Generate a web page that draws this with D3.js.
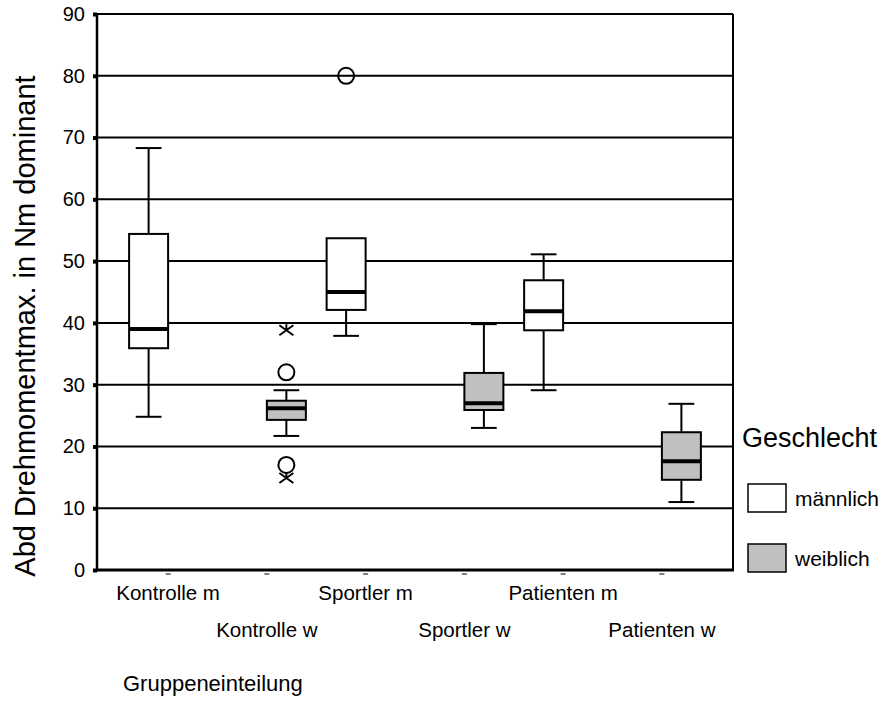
<!DOCTYPE html>
<html>
<head>
<meta charset="utf-8">
<script src="https://cdn.jsdelivr.net/npm/d3@7/dist/d3.min.js"></script>
<style>
	body { margin: 0; background: #fff; }
	text { font-family: "Liberation Sans", Arial, sans-serif; fill: #000; }
</style>
</head>
<body>
<svg id="chart" width="887" height="715"></svg>
<script>
// groups on the x axis, two rows of labels
const groups = ['Kontrolle m', 'Kontrolle w', 'Sportler m', 'Sportler w', 'Patienten m', 'Patienten w'];
const sexes = ['männlich', 'weiblich'];
const yTicks = [0, 10, 20, 30, 40, 50, 60, 70, 80, 90];

// box stats per group: [lower whisker, q1, median, q3, upper whisker]
const boxSex = ['männlich', 'weiblich', 'männlich', 'weiblich', 'männlich', 'weiblich'];
const boxStats = [
	[24.8, 35.9, 39.0, 54.4, 68.3],
	[21.7, 24.3, 26.2, 27.4, 29.1],
	[37.9, 42.1, 45.0, 53.7, 53.7],
	[23.0, 25.9, 27.0, 31.9, 39.8],
	[29.1, 38.8, 41.9, 46.9, 51.1],
	[11.0, 14.6, 17.6, 22.3, 26.9]
];

// outliers (circle) and extremes (star)
const outliers = [
	{ group: 'Kontrolle w', value: 32.0, kind: 'circle' },
	{ group: 'Kontrolle w', value: 17.0, kind: 'circle' },
	{ group: 'Kontrolle w', value: 38.8, kind: 'star' },
	{ group: 'Kontrolle w', value: 14.9, kind: 'star' },
	{ group: 'Sportler m', value: 80.0, kind: 'circle' }
];

const fills = { 'männlich': '#ffffff', 'weiblich': '#c0c0c0' };

const plot = { left: 97, right: 733, top: 14, bottom: 570 };

const svg = d3.select('#chart');

const x = d3.scalePoint()
	.domain(groups)
	.range([plot.left, plot.right])
	.padding(0.72);

const boxW = 39;
const xSex = d3.scaleBand()
	.domain(sexes)
	.range([-boxW, boxW])
	.padding(0);

const y = d3.scaleLinear()
	.domain([0, 90])
	.range([plot.bottom, plot.top]);

// grid lines
svg.append('g')
	.selectAll('line')
	.data(yTicks.filter(d => d > 0))
	.join('line')
	.attr('x1', plot.left)
	.attr('x2', plot.right)
	.attr('y1', d => y(d))
	.attr('y2', d => y(d))
	.attr('stroke', '#000')
	.attr('stroke-width', 2);

// frame
svg.append('line')
	.attr('x1', plot.right).attr('x2', plot.right)
	.attr('y1', plot.top).attr('y2', plot.bottom)
	.attr('stroke', '#000').attr('stroke-width', 2);
svg.append('line')
	.attr('x1', plot.left).attr('x2', plot.left)
	.attr('y1', plot.top).attr('y2', plot.bottom + 1.5)
	.attr('stroke', '#000').attr('stroke-width', 2.5);
svg.append('line')
	.attr('x1', plot.left - 1).attr('x2', plot.right + 1)
	.attr('y1', plot.bottom).attr('y2', plot.bottom)
	.attr('stroke', '#000').attr('stroke-width', 3);

// y axis ticks + labels
const yAxis = svg.append('g')
	.attr('transform', `translate(${plot.left},0)`)
	.call(d3.axisLeft(y).tickValues(yTicks).tickSize(4).tickPadding(8));
yAxis.select('.domain').remove();
yAxis.selectAll('.tick line').attr('stroke', '#000').attr('stroke-width', 4);
yAxis.selectAll('.tick text')
	.style('font-size', '20px')
	.style('font-family', '"Liberation Sans", Arial, sans-serif')
	.attr('dy', '0.32em');

// x ticks: small dashes
svg.append('g')
	.selectAll('line')
	.data(groups)
	.join('line')
	.attr('x1', d => x(d) - 2.5)
	.attr('x2', d => x(d) + 2.5)
	.attr('y1', plot.bottom + 4)
	.attr('y2', plot.bottom + 4)
	.attr('stroke', '#555')
	.attr('stroke-width', 1.5);

// category labels, alternating rows
svg.append('g')
	.selectAll('text')
	.data(groups)
	.join('text')
	.attr('x', d => x(d))
	.attr('y', (d, i) => i % 2 === 0 ? 600 : 637)
	.attr('text-anchor', 'middle')
	.style('font-size', '20.5px')
	.text(d => d);

// boxes
const boxes = svg.append('g')
	.selectAll('g')
	.data(groups.map((g, i) => ({ group: g, sex: boxSex[i], s: boxStats[i] })))
	.join('g')
	.attr('transform', d => `translate(${x(d.group) + xSex(d.sex)},0)`);

const bw = xSex.bandwidth();
const capW = bw * 0.66;

// whiskers
boxes.append('line')
	.attr('x1', bw / 2).attr('x2', bw / 2)
	.attr('y1', d => y(d.s[0])).attr('y2', d => y(d.s[1]))
	.attr('stroke', '#000').attr('stroke-width', 2);
boxes.append('line')
	.attr('x1', bw / 2).attr('x2', bw / 2)
	.attr('y1', d => y(d.s[3])).attr('y2', d => y(d.s[4]))
	.attr('stroke', '#000').attr('stroke-width', 2);
boxes.selectAll('line.cap')
	.data(d => [d.s[0], d.s[4]].filter(v => v !== d.s[3] && v !== d.s[1]))
	.join('line')
	.attr('class', 'cap')
	.attr('x1', (bw - capW) / 2).attr('x2', (bw + capW) / 2)
	.attr('y1', v => y(v)).attr('y2', v => y(v))
	.attr('stroke', '#000').attr('stroke-width', 2);

boxes.append('rect')
	.attr('x', 0)
	.attr('width', bw)
	.attr('y', d => y(d.s[3]))
	.attr('height', d => y(d.s[1]) - y(d.s[3]))
	.attr('fill', d => fills[d.sex])
	.attr('stroke', '#000')
	.attr('stroke-width', 2);

// median
boxes.append('line')
	.attr('x1', 0).attr('x2', bw)
	.attr('y1', d => y(d.s[2])).attr('y2', d => y(d.s[2]))
	.attr('stroke', '#000').attr('stroke-width', 4);

// outliers
const outX = d => x(d.group) + xSex(boxSex[groups.indexOf(d.group)]) + bw / 2;
const outG = svg.append('g');
outG.selectAll('circle')
	.data(outliers.filter(d => d.kind === 'circle'))
	.join('circle')
	.attr('cx', outX)
	.attr('cy', d => y(d.value))
	.attr('r', 8)
	.attr('fill', 'none')
	.attr('stroke', '#000')
	.attr('stroke-width', 2);
outG.selectAll('path')
	.data(outliers.filter(d => d.kind === 'star'))
	.join('path')
	.attr('transform', d => `translate(${outX(d)},${y(d.value)})`)
	.attr('d', 'M-7,-5L7,5M-7,5L7,-5M0,-6L0,0')
	.attr('fill', 'none')
	.attr('stroke', '#000')
	.attr('stroke-width', 2);

// axis titles
svg.append('text')
	.attr('transform', 'translate(35,326) rotate(-90)')
	.attr('text-anchor', 'middle')
	.style('font-size', '29px')
	.text('Abd Drehmomentmax. in Nm dominant');

svg.append('text')
	.attr('x', 123)
	.attr('y', 691)
	.style('font-size', '22px')
	.text('Gruppeneinteilung');

// legend
const legend = svg.append('g');
legend.append('text')
	.attr('x', 742)
	.attr('y', 447)
	.style('font-size', '27px')
	.text('Geschlecht');

const legendItem = legend.selectAll('g')
	.data(sexes)
	.join('g')
	.attr('transform', (d, i) => `translate(748,${484 + i * 60})`);
legendItem.append('rect')
	.attr('width', 38)
	.attr('height', 28)
	.attr('fill', d => fills[d])
	.attr('stroke', '#000')
	.attr('stroke-width', 1.5);
legendItem.append('text')
	.attr('x', 47)
	.attr('y', 22)
	.style('font-size', '21px')
	.text(d => d);
</script>
</body>
</html>
